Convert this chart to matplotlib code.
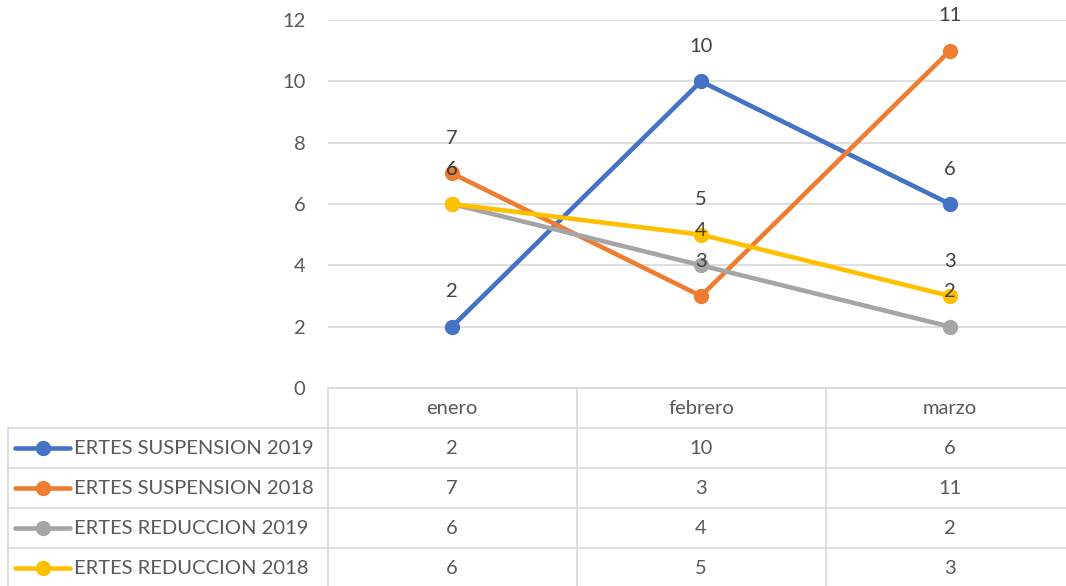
import matplotlib
matplotlib.use("Agg")
import matplotlib.pyplot as plt

categories = ["enero", "febrero", "marzo"]
series_names = ["ERTES SUSPENSION 2019", "ERTES SUSPENSION 2018",
                "ERTES REDUCCION 2019", "ERTES REDUCCION 2018"]
susp_2019 = [2, 10, 6]
susp_2018 = [7, 3, 11]
red_2019 = [6, 4, 2]
red_2018 = [6, 5, 3]
y_ticks = [0, 2, 4, 6, 8, 10, 12]

series = [susp_2019, susp_2018, red_2019, red_2018]
colors = ["#4472C4", "#ED7D31", "#A5A5A5", "#FFC000"]

plt.rcParams["font.family"] = ["Lato", "DejaVu Sans"]
W, H = 1066, 586
fig = plt.figure(figsize=(W / 100, H / 100), dpi=100)

grid_c = "#d9d9d9"
tick_c = "#595959"
lab_c = "#404040"
fs = 14.5

# main plot area (pixels: x 327.5..1074.5, y 20..388)
left, right, top, bottom = 327.5, 1074.5, 20, 388
ax = fig.add_axes([left / W, 1 - bottom / H, (right - left) / W, (bottom - top) / H])
ax.set_xlim(-0.5, 2.5)
ax.set_ylim(0, 12)
ax.set_yticks(y_ticks)
ax.set_xticks([])
ax.tick_params(axis="y", length=0, pad=16, labelsize=fs, labelcolor=tick_c)
for s in ax.spines.values():
    s.set_visible(False)
ax.grid(axis="y", color=grid_c, linewidth=1.2)
ax.set_axisbelow(True)

x = range(len(categories))
for vals, c in zip(series, colors):
    ax.plot(x, vals, color=c, linewidth=3.3, marker="o", markersize=10, zorder=3)
for vals in series:
    for i, v in enumerate(vals):
        ax.annotate(str(v), (i, v), xytext=(0, 25), textcoords="offset points",
                    ha="center", va="center", fontsize=fs, color=lab_c, zorder=5,
                    annotation_clip=False)

# data table below
t_left = 8
ppu = (right - left) / 3.0
x0 = -0.5 - (left - t_left) / ppu
row_h = 40
tax = fig.add_axes([t_left / W, 0, (right - t_left) / W, (H - bottom) / H])
tax.set_xlim(x0, 2.5)
tax.set_ylim((H - bottom) / row_h, 0)
tax.axis("off")

n_rows = len(series) + 1
# horizontal lines
tax.plot([-0.5, 2.5], [0, 0], color=grid_c, lw=1.2, clip_on=False)
for r in range(1, n_rows + 1):
    tax.plot([x0, 2.5], [r, r], color=grid_c, lw=1.2, clip_on=False)
# vertical lines
for xv in [-0.5, 0.5, 1.5, 2.5]:
    tax.plot([xv, xv], [0, n_rows], color=grid_c, lw=1.2, clip_on=False)
tax.plot([x0, x0], [1, n_rows], color=grid_c, lw=1.2, clip_on=False)

for i, cat in enumerate(categories):
    tax.text(i, 0.5, cat, ha="center", va="center", fontsize=fs, color=tick_c)

for r, (name, vals, c) in enumerate(zip(series_names, series, colors), start=1):
    yc = r + 0.5
    lx0 = x0 + 7 / ppu
    lx1 = x0 + 62 / ppu
    tax.plot([lx0, lx1], [yc, yc], color=c, lw=3.3, solid_capstyle="round")
    tax.plot([(lx0 + lx1) / 2], [yc], "o", color=c, markersize=10)
    tax.text(x0 + 66 / ppu, yc, name, ha="left", va="center", fontsize=fs, color=tick_c)
    for i, v in enumerate(vals):
        tax.text(i, yc, str(v), ha="center", va="center", fontsize=fs, color=tick_c)

fig.savefig("out.png", dpi=100)
